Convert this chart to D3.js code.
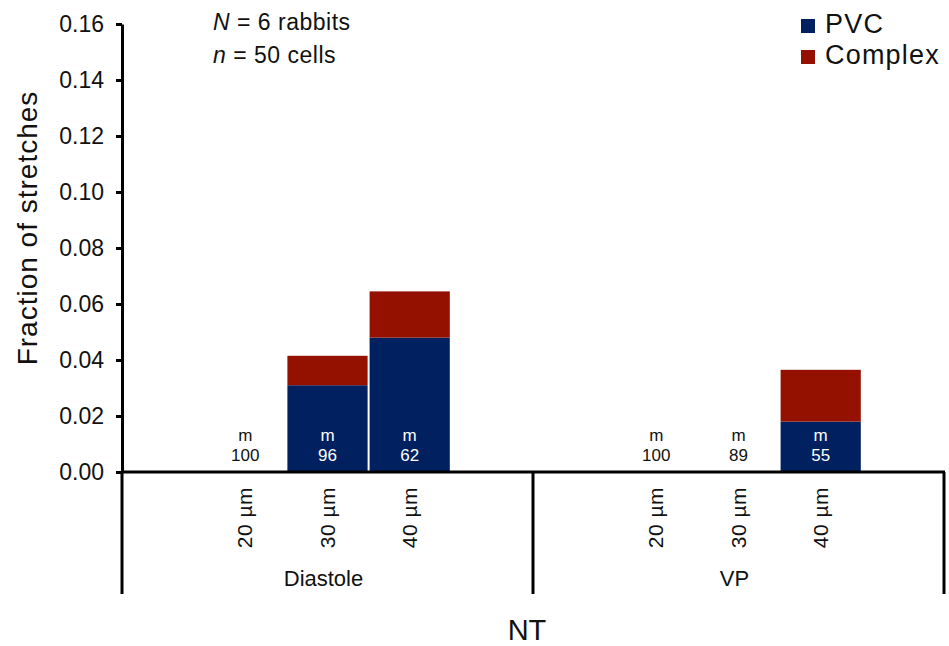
<!DOCTYPE html>
<html>
<head>
<meta charset="utf-8">
<script src="https://cdn.jsdelivr.net/npm/d3@7"></script>
<style>
  body { margin: 0; background: #fff; }
  svg text { font-family: "Liberation Sans", Arial, Helvetica, sans-serif; fill: #111; }
</style>
</head>
<body>
<svg id="chart" width="949" height="646"></svg>
<script>
// ---- data ----
const groups = ["Diastole", "VP"];
const sizes = ["20 µm", "30 µm", "40 µm"];
const pvc = {
  "Diastole": [0, 0.031, 0.048],
  "VP": [0, 0, 0.018]
};
const complexVals = {
  "Diastole": [0, 0.0105, 0.0165],
  "VP": [0, 0, 0.0185]
};
const counts = {
  "Diastole": [100, 96, 62],
  "VP": [100, 89, 55]
};
const yTicks = [0, 0.02, 0.04, 0.06, 0.08, 0.10, 0.12, 0.14, 0.16];
const seriesNames = ["PVC", "Complex"];
const colors = { "PVC": "#002060", "Complex": "#941100" };

// ---- layout ----
const svg = d3.select("#chart");
const plotLeft = 122, plotRight = 944, plotTop = 24, base = 472, bottomLine = 594;

const y = d3.scaleLinear().domain([0, 0.16]).range([base, plotTop]);

// slots: padding slot, 3 sizes, padding slot per group
const slots = [];
groups.forEach(g => {
  slots.push(g + "|padL");
  sizes.forEach(s => slots.push(g + "|" + s));
  slots.push(g + "|padR");
});
const x = d3.scaleBand().domain(slots).range([plotLeft, plotRight]).padding(0);
const gx = d3.scaleBand().domain(groups).range([plotLeft, plotRight]).padding(0);

// rows for bars
const rows = [];
groups.forEach(g => sizes.forEach((s, i) => {
  rows.push({ group: g, size: s, key: g + "|" + s, PVC: pvc[g][i], Complex: complexVals[g][i], n: counts[g][i] });
}));
const stack = d3.stack().keys(seriesNames)(rows);

svg.append("g").selectAll("g").data(stack).join("g")
  .attr("fill", d => colors[d.key])
  .selectAll("rect").data(d => d).join("rect")
  .attr("x", d => x(d.data.key) + 1)
  .attr("width", x.bandwidth() - 2)
  .attr("y", d => y(d[1]))
  .attr("height", d => y(d[0]) - y(d[1]));

// labels in bars
const lab = svg.append("g").attr("text-anchor", "middle").style("font-size", "17px");
rows.forEach(r => {
  const cx = x(r.key) + x.bandwidth() / 2;
  const col = r.PVC > 0 ? "#fff" : "#111";
  lab.append("text").attr("x", cx).attr("y", y(0) - 31).style("fill", col).text("m");
  lab.append("text").attr("x", cx).attr("y", y(0) - 11).style("fill", col).text(r.n);
});

// y axis
const yAxis = d3.axisLeft(y).tickValues(yTicks).tickFormat(d3.format(".2f")).tickSize(6).tickSizeOuter(0).tickPadding(12);
const ya = svg.append("g").attr("transform", `translate(${plotLeft},0)`).call(yAxis);
ya.attr("font-family", null).attr("font-size", null);
ya.select(".domain").attr("stroke", "#000").attr("stroke-width", 3);
ya.selectAll(".tick line").attr("stroke", "#000").attr("stroke-width", 3);
ya.selectAll(".tick text").style("font-size", "23px").style("fill", "#111").attr("dy", "0.34em");

// x axis baseline
svg.append("line").attr("x1", plotLeft - 1).attr("x2", plotRight + 1).attr("y1", base).attr("y2", base)
  .attr("stroke", "#000").attr("stroke-width", 3);
// group separators
const seps = [plotLeft, gx(groups[1]), plotRight];
svg.append("g").selectAll("line").data(seps).join("line")
  .attr("x1", d => d).attr("x2", d => d).attr("y1", base).attr("y2", bottomLine)
  .attr("stroke", "#000").attr("stroke-width", 3);

// rotated size labels
svg.append("g").selectAll("text").data(rows).join("text")
  .attr("transform", d => `translate(${x(d.key) + x.bandwidth() / 2 + 7},${base + 15}) rotate(-90)`)
  .attr("text-anchor", "end")
  .style("font-size", "21px")
  .style("letter-spacing", "0.5px")
  .text(d => d.size);

// group labels
svg.append("g").selectAll("text").data(groups).join("text")
  .attr("x", d => gx(d) + gx.bandwidth() / 2 - 4)
  .attr("y", 586)
  .attr("text-anchor", "middle")
  .style("font-size", "22px")
  .text(d => d);

// axis titles
svg.append("text").attr("x", 527).attr("y", 640).attr("text-anchor", "middle")
  .style("font-size", "29px").text("NT");
svg.append("text").attr("transform", `translate(37,228) rotate(-90)`).attr("text-anchor", "middle")
  .style("font-size", "28px").style("letter-spacing", "1px").text("Fraction of stretches");

// annotation
const ann = svg.append("g").style("font-size", "23px").style("letter-spacing", "0.5px");
const t1 = ann.append("text").attr("x", 213).attr("y", 30);
t1.append("tspan").style("font-style", "italic").text("N");
t1.append("tspan").text(" = 6 rabbits");
const t2 = ann.append("text").attr("x", 213).attr("y", 63);
t2.append("tspan").style("font-style", "italic").text("n");
t2.append("tspan").text(" = 50 cells");

// legend
const leg = svg.append("g");
seriesNames.forEach((s, i) => {
  leg.append("rect").attr("x", 801).attr("y", 19 + i * 31).attr("width", 14).attr("height", 14).attr("fill", colors[s]);
  leg.append("text").attr("x", 825).attr("y", 33 + i * 31).style("font-size", "27px").style("letter-spacing", "1.2px").text(s);
});
</script>
</body>
</html>
